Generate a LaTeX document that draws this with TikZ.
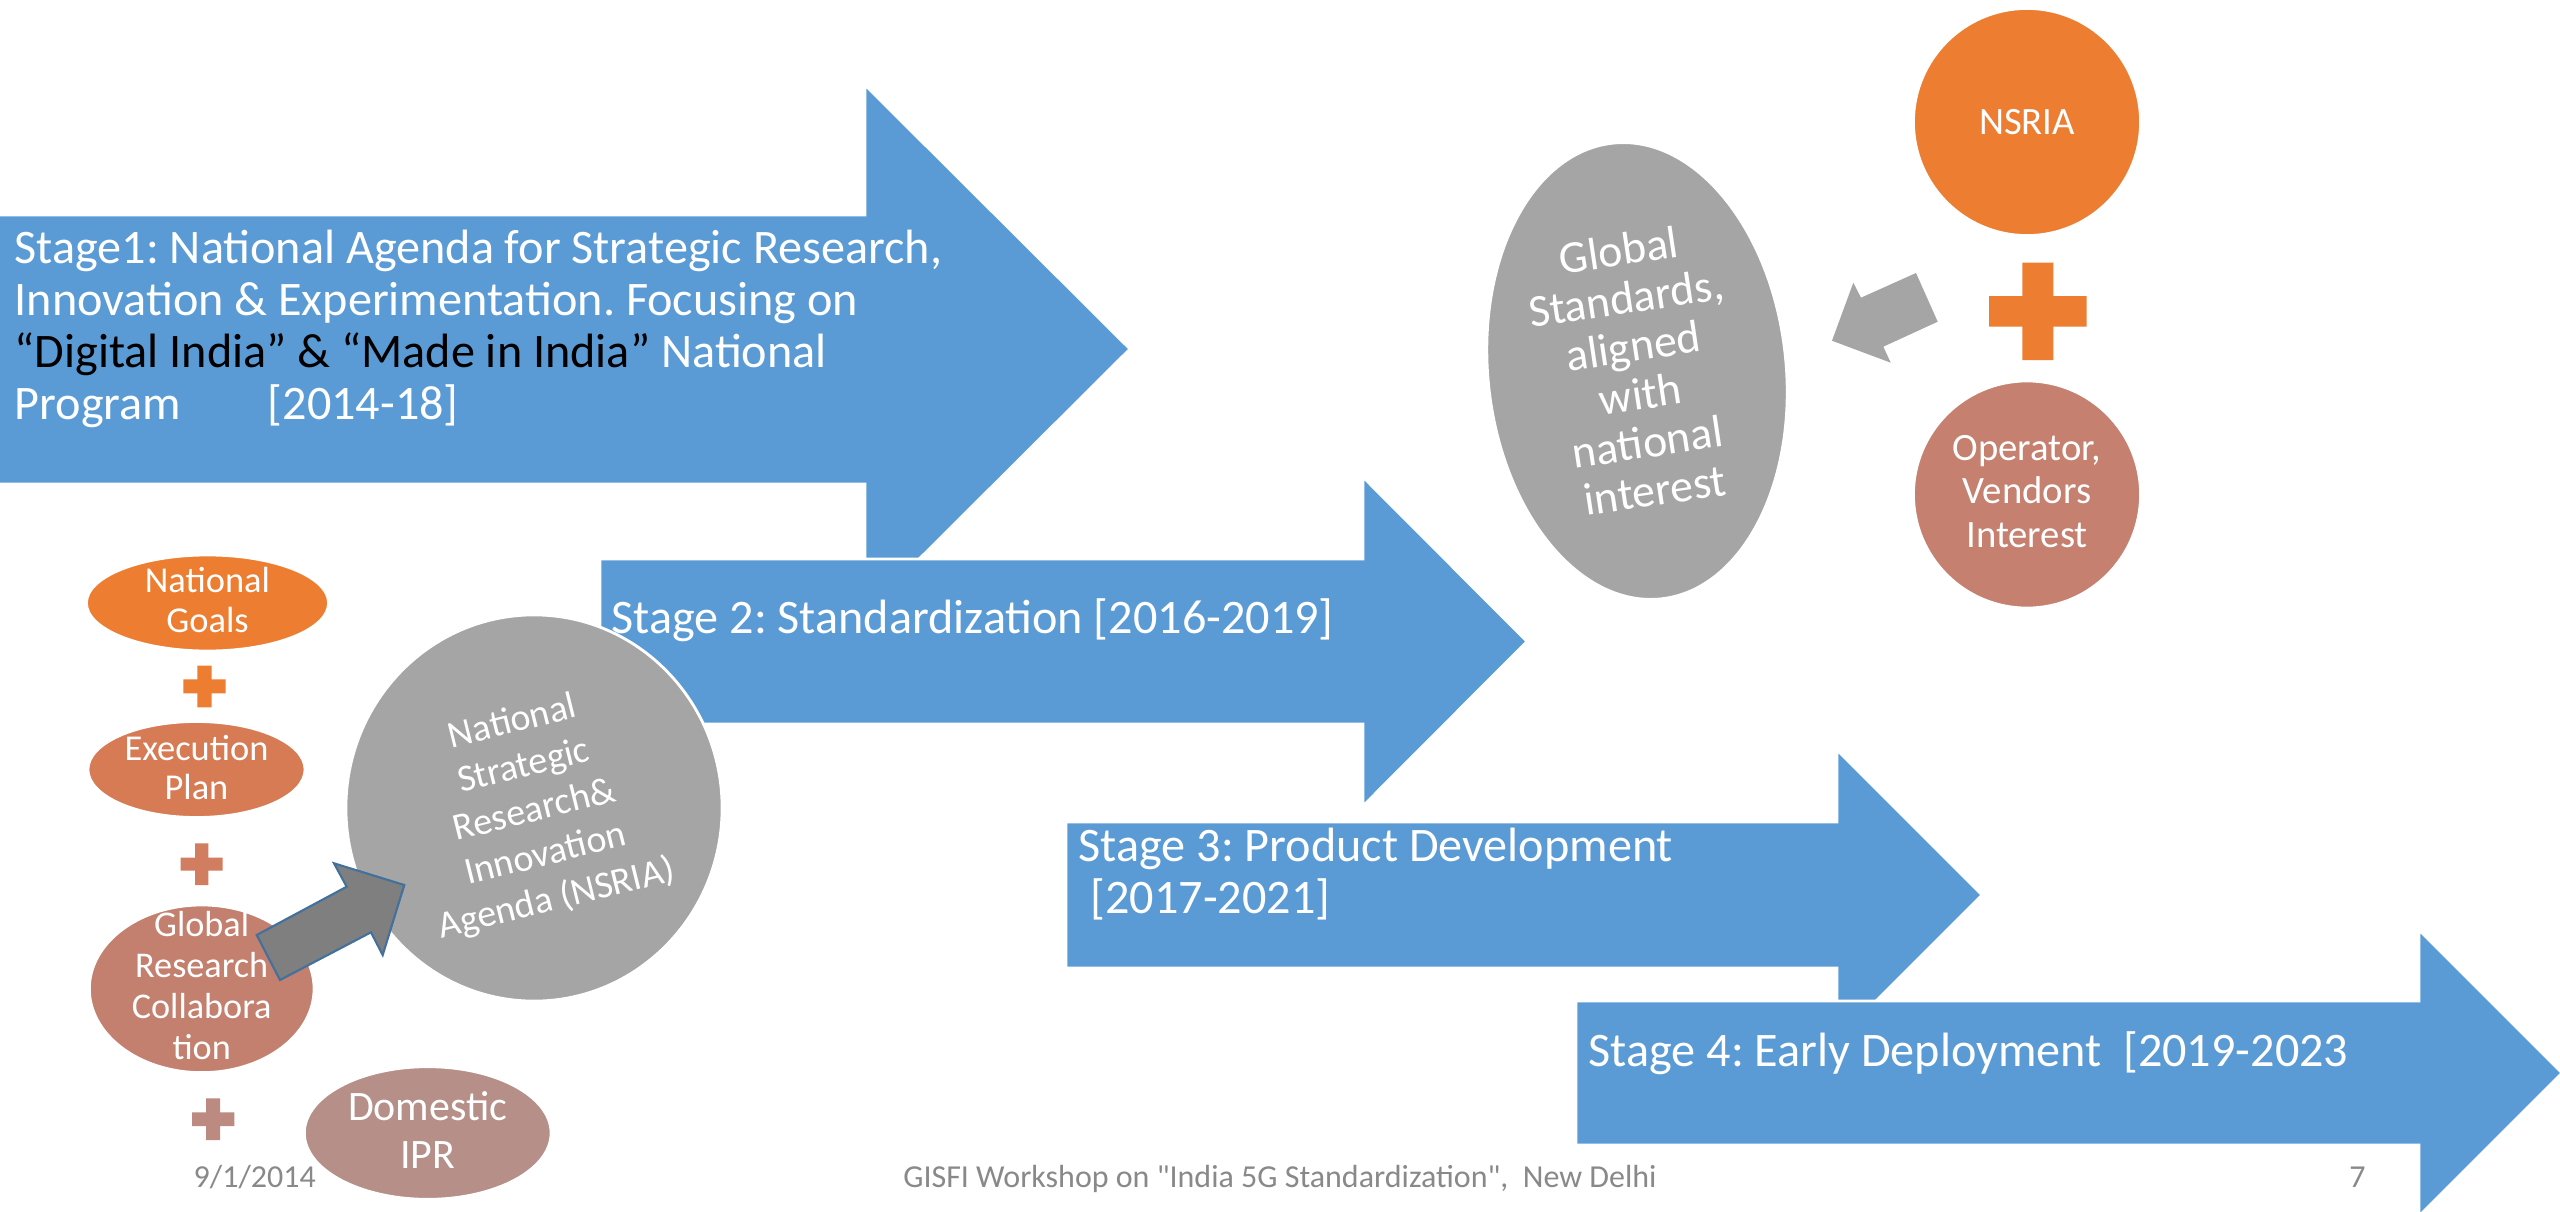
\documentclass[tikz,border=0pt]{standalone}
\usepackage{fontspec}
\setmainfont{Carlito}
\newfontfamily\footfont{Carlito}
\usetikzlibrary{shapes.geometric}
\definecolor{stblue}{HTML}{5B9BD5}
\definecolor{acorange}{HTML}{ED7D31}
\definecolor{acgray}{HTML}{A5A5A5}
\definecolor{execcol}{HTML}{D77B54}
\definecolor{grccol}{HTML}{C4806F}
\definecolor{iprcol}{HTML}{B58F88}
\definecolor{plustwo}{HTML}{D07D60}
\definecolor{plusthree}{HTML}{BC8A80}
\definecolor{opcol}{HTML}{C5806F}
\definecolor{darkarrow}{HTML}{7F7F7F}
\definecolor{arrowedge}{HTML}{41719C}
\definecolor{footgray}{HTML}{898989}
\newcommand{\ltab}[1]{\begin{tabular}[t]{@{}l@{}}#1\end{tabular}}
\newcommand{\ctab}[1]{\begin{tabular}[t]{@{}c@{}}#1\end{tabular}}
\frenchspacing
\begin{document}
\frenchspacing
\begin{tikzpicture}[x=0.01cm,y=-0.01cm,
  stagebox/.style={fill=stblue, draw=white, line width=0.8pt},
  stagetext/.style={anchor=base west, inner sep=0pt, text=white, font=\frenchspacing\fontsize{13.7}{14.8}\selectfont},
  blob/.style={ellipse, draw=white, line width=0.8pt, inner sep=0pt, outer sep=0pt},
  lbl/.style={anchor=base, inner sep=0pt, text=white},
  rotlbl/.style={anchor=center, inner sep=0pt, text=white},
  foot/.style={anchor=base, inner sep=0pt, text=footgray, font=\footfont\fontsize{9.1}{10.5}\selectfont}]
\fill[white] (0,0) rectangle (2560,1212);
\useasboundingbox (0,0) rectangle (2560,1212);

% Stage 1
\path[stagebox] (-5,215) -- (865,215) -- (865,85) -- (1130,349) -- (865,613) -- (865,484) -- (-5,484) -- cycle;
\node[stagetext] (s1) at (14,263) {\ltab{Stage1: National Agenda for Strategic Research,\\Innovation \& Experimentation. Focusing on\\{\color{black}“Digital India” \& “Made in India”} National\\Program\hspace{1.8em}[2014-18]}};

% Stage 2
\path[stagebox] (600,559) -- (1363,559) -- (1363,477) -- (1527,641.5) -- (1363,806) -- (1363,724) -- (600,724) -- cycle;
\node[stagetext] (s2) at (611,633) {Stage 2: Standardization [2016-2019]};

% Stage 3
\path[stagebox] (1066,822) -- (1837,822) -- (1837,750) -- (1982,895) -- (1837,1040) -- (1837,968) -- (1066,968) -- cycle;
\node[stagetext] (s3) at (1078,861) {\ltab{Stage 3: Product Development\\\hspace{0.25em}[2017-2021]}};

% Stage 4
\path[stagebox] (1576,1001) -- (2419,1001) -- (2419,930) -- (2562,1073) -- (2419,1216) -- (2419,1145) -- (1576,1145) -- cycle;
\node[stagetext] (s4) at (1588,1066) {Stage 4: Early Deployment\ \ [2019-2023};

% NSRIA grey circle
\node[blob, fill=acgray, minimum width=3.76cm, minimum height=3.86cm] (nsria) at (534,808) {};
\node[rotlbl, rotate=14, font=\fontsize{10.8}{12.95}\selectfont] (nsriatxt) at (535,812) {\ctab{National\\Strategic\\Research\&\\Innovation\\Agenda (NSRIA)}};

% Left cluster
\node[blob, fill=acorange, minimum width=2.42cm, minimum height=0.96cm] (goals) at (207.5,603) {};
\node[lbl, font=\fontsize{10.36}{11.27}\selectfont] (goalstxt) at (207.5,592.7) {\ctab{National\\Goals}};
\fill[acorange] (197.3,665.7) rectangle (211.7,707.3) (183.3,679.3) rectangle (225.7,693.3);

\node[blob, fill=execcol, minimum width=2.17cm, minimum height=0.96cm] (exec) at (196.5,769.5) {};
\node[lbl, font=\fontsize{10.36}{11.3}\selectfont] (exectxt) at (196.5,760) {\ctab{Execution\\Plan}};
\fill[plustwo] (195,843.3) rectangle (208.3,885) (180.7,857.7) rectangle (222.7,870.7);

\node[blob, fill=grccol, minimum width=2.246cm, minimum height=1.676cm] (grc) at (201.7,988.8) {};
\node[lbl, font=\fontsize{10.3}{11.6}\selectfont] (grctxt) at (201.7,936.7) {\ctab{Global\\Research\\Collabora\\tion}};
\fill[plusthree] (206,1098.3) rectangle (220,1140) (192,1112.3) rectangle (234.3,1126);

\node[blob, fill=iprcol, minimum width=2.466cm, minimum height=1.326cm] (ipr) at (427.7,1133) {};
\node[lbl, font=\fontsize{11.92}{13.54}\selectfont] (iprtxt) at (427.7,1120.7) {\ctab{Domestic\\IPR}};

% dark block arrow from collaboration to NSRIA
\path[fill=darkarrow, draw=arrowedge, line width=0.6pt, line join=miter]
  (256.7,935) -- (346.7,886.7) -- (334,863.3) -- (404.3,885) -- (382.7,955) -- (371,932.3) -- (280,980) -- cycle;

% Global standards ellipse
\node[blob, fill=acgray, minimum width=2.98cm, minimum height=4.58cm, rotate=6] (gstd) at (1637,371) {};
\node[rotlbl, rotate=8.5, font=\fontsize{13}{13.8}\selectfont] (gstdtxt) at (1637.6,375.8) {\ctab{Global\\Standards,\\aligned\\with\\national\\interest}};

% NSRIA orange circle
\node[blob, fill=acorange, minimum width=2.27cm, minimum height=2.27cm] (nsriaor) at (2027,122) {};
\node[lbl, font=\fontsize{11}{12.5}\selectfont] (nsriaortxt) at (2027,134) {NSRIA};

% orange plus
\fill[acorange] (2022.3,262.7) rectangle (2053.3,360) (1989,296) rectangle (2086.7,326.7);

% Operator circle
\node[blob, fill=opcol, minimum width=2.27cm, minimum height=2.27cm] (oper) at (2027,494.5) {};
\node[lbl, font=\fontsize{11}{12.5}\selectfont] (opertxt) at (2027,460) {\ctab{Operator,\\Vendors\\Interest}};

% grey block arrow toward global standards
\fill[acgray] (1916,273) -- (1937.7,321.7) -- (1883.3,346.7) -- (1890.7,362.7) -- (1832,340.7) -- (1853.3,282.7) -- (1861,297.7) -- cycle;

% Footer
\node[foot, anchor=base west] (date) at (193,1187) {9/1/2014};
\node[foot] (title) at (1280,1187) {GISFI Workshop on "India 5G Standardization",\ \ New Delhi};
\node[foot] (page) at (2357.5,1187) {7};
\end{tikzpicture}
\end{document}
